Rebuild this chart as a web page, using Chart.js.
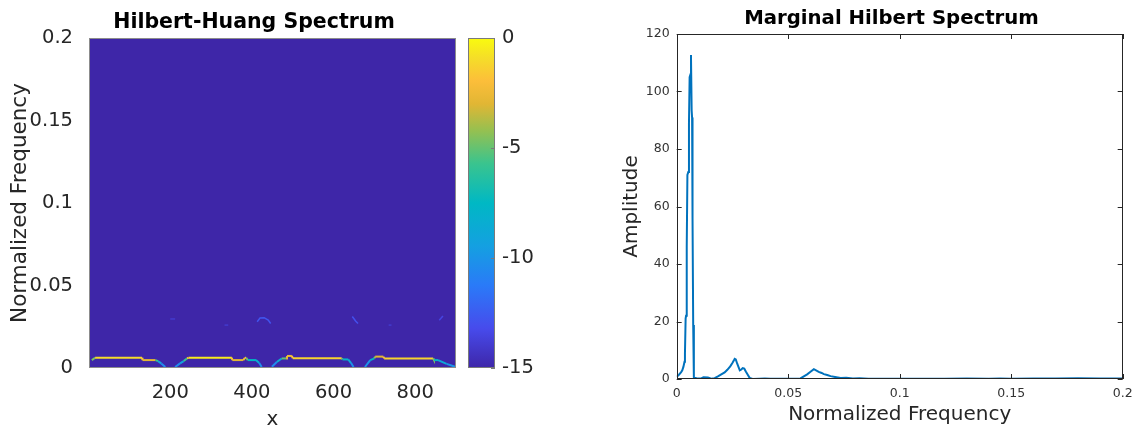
<!DOCTYPE html>
<html>
<head>
<meta charset="utf-8">
<title>Hilbert-Huang Spectrum</title>
<script src="https://cdn.jsdelivr.net/npm/chart.js@4.4.1/dist/chart.umd.min.js"></script>
<style>
  html, body { margin: 0; padding: 0; background: #fff; }
  body { width: 1136px; height: 427px; position: relative; overflow: hidden; }
  canvas { position: absolute; top: 0; }
  #hhsChart { left: 0; }
  #barChart { left: 460px; }
  #mhsChart { left: 560px; }
</style>
</head>
<body>
<canvas id="hhsChart" width="508" height="427"></canvas>
<canvas id="barChart" width="100" height="427"></canvas>
<canvas id="mhsChart" width="663" height="427"></canvas>
<script>
(function () {
  "use strict";

  // --- Hilbert-Huang spectrum: instantaneous frequency ridges (null = break) ---
  const ridgeX = [
    8, 16, 131, 132, 164, 170, 178, 188, null,
    212, 224, 233, 241, 245, 351, 352, 379, 383, 386, 390, 410, 418, 424, null,
    449, 461, 473, 484, 486, 498, 500, 620, 622, 636, 643, 649, null,
    677, 690, 700, 702, 722, 724, 844, 846, 856, 877, 898
  ];
  const ridgeFreq = [
    0.0048, 0.0062, 0.0062, 0.0048, 0.0048, 0.0042, 0.0028, 0.0006, null,
    0.0006, 0.0028, 0.0042, 0.0058, 0.0062, 0.0062, 0.0048, 0.0048, 0.0062, 0.0062, 0.0048, 0.0048, 0.0030, 0.0006, null,
    0.0008, 0.0036, 0.0058, 0.0058, 0.0073, 0.0073, 0.0059, 0.0059, 0.0052, 0.0052, 0.0030, 0.0006, null,
    0.0006, 0.0048, 0.0058, 0.0069, 0.0069, 0.0058, 0.0058, 0.0048, 0.0048, 0.0025, 0.0008
  ];
  const ridgeLevel = [
    -8, -1.5, -0.5, -3, -3, -8.5, -10, -11, null,
    -11, -10, -8.5, -3, -0.5, -0.5, -3, -3, -2, -2, -7.5, -7.5, -9.5, -11, null,
    -11, -10, -7, -3, -2.5, -2.5, -1, -1.5, -7.5, -8, -9.5, -11, null,
    -11, -9, -6, -3, -3, -1, -1.5, -7.5, -8, -9.5, -10.5
  ];

  // weak components near 0.03
  const weakX = [200, 212, null, 333, 342, null, 413, 420, 430, 440, 446, null, 646, 654, 660, null, 735, 742, null, 859, 868];
  const weakFreq = [0.0297, 0.0297, null, 0.026, 0.026, null, 0.028, 0.0303, 0.0305, 0.029, 0.027, null, 0.0312, 0.0285, 0.027, null, 0.026, 0.026, null, 0.029, 0.0315];
  const weakLevel = [-14, -14, null, -14, -14, null, -12.8, -12.8, -12.8, -12.8, -12.8, null, -13, -13, -13, null, -14, -14, null, -13.5, -13.5];

  const hhsXTicks = [200, 400, 600, 800];
  const hhsYTicks = [0, 0.05, 0.1, 0.15, 0.2];
  const levelRange = [-15, 0];
  const levelTicks = [-15, -10, -5, 0];

  // --- marginal Hilbert spectrum ---
  const mhsFreq = [
    0, 0.001, 0.002, 0.0025, 0.003, 0.0035, 0.0037, 0.004, 0.0042, 0.0045, 0.0048, 0.0052, 0.0055, 0.0058,
    0.0062, 0.0064, 0.0067, 0.0069, 0.0071, 0.0074, 0.0077,
    0.009, 0.011, 0.012, 0.014, 0.0155, 0.017, 0.0185, 0.02, 0.0215, 0.0227, 0.024, 0.0249, 0.0256, 0.026,
    0.0265, 0.0271, 0.0277, 0.0283, 0.029, 0.0296, 0.0303, 0.031, 0.032, 0.0327, 0.034, 0.037, 0.0395,
    0.042, 0.047, 0.052, 0.0555, 0.057, 0.0585, 0.06, 0.0615, 0.0625, 0.0637, 0.065, 0.066, 0.0675, 0.069,
    0.071, 0.0735, 0.076, 0.079, 0.082, 0.086, 0.09, 0.1, 0.12, 0.13, 0.14, 0.145, 0.15, 0.16, 0.17, 0.18,
    0.19, 0.2
  ];
  const mhsAmp = [
    0.8, 1.5, 2.4, 3, 4.2, 6, 9, 21, 22, 46, 71, 72, 89, 105,
    106, 112.7, 93.5, 91, 56, 18.8, 0.4,
    0.3, 0.2, 0.6, 0.5, 0.1, 0.3, 0.9, 1.6, 2.3, 3.2, 4.4, 5.5, 6.4, 7.0,
    6.8, 5.4, 4.2, 3.0, 3.3, 3.8, 3.6, 2.6, 1.3, 0.4, 0, 0.1, 0.2,
    0.05, 0.05, 0.1, 0.2, 0.9, 1.6, 2.5, 3.4, 3.0, 2.5, 2.1, 1.7, 1.4, 1.0,
    0.7, 0.35, 0.4, 0.2, 0.3, 0.1, 0.05, 0.05, 0.05, 0.15, 0.05, 0.2, 0.05, 0.2, 0.15, 0.25,
    0.2, 0.2
  ];
  const mhsXTicks = [0, 0.05, 0.1, 0.15, 0.2];
  const mhsYTicks = [0, 20, 40, 60, 80, 100, 120];

  const font = "\"DejaVu Sans\", sans-serif";
  const ink = "#262626";
  const lineBlue = "#0072bd";

  Chart.defaults.font.family = font;
  Chart.defaults.color = ink;
  Chart.defaults.animation = false;

  // parula-like colour map, stops on [0, 1]
  const parulaStops = [
    [0.00, 62, 38, 168],
    [0.12, 71, 75, 236],
    [0.25, 42, 122, 248],
    [0.37, 20, 160, 225],
    [0.50, 0, 184, 196],
    [0.62, 58, 196, 142],
    [0.72, 150, 192, 80],
    [0.80, 225, 182, 52],
    [0.87, 252, 190, 58],
    [0.94, 245, 222, 40],
    [1.00, 249, 251, 14]
  ];

  function parula(level) {
    const t = Math.min(1, Math.max(0, (level - levelRange[0]) / (levelRange[1] - levelRange[0])));
    for (let i = 1; i < parulaStops.length; i++) {
      const a = parulaStops[i - 1], b = parulaStops[i];
      if (t <= b[0]) {
        const k = (t - a[0]) / (b[0] - a[0]);
        const c = [1, 2, 3].map(j => Math.round(a[j] + (b[j] - a[j]) * k));
        return `rgb(${c[0]}, ${c[1]}, ${c[2]})`;
      }
    }
    return "rgb(249, 251, 14)";
  }

  const points = (xs, ys) => xs.map((x, i) => ({ x, y: ys[i] }));
  const fixWidth = w => scale => { scale.width = w; };
  const fixHeight = h => scale => { scale.height = h; };
  const useTicks = list => scale => { scale.ticks = list.map(value => ({ value })); };
  const trimNum = v => String(+v.toFixed(4));

  // empty right-hand axis that only reserves room, so the title centres where wanted
  const spacerAxis = w => ({
    position: "right",
    display: true,
    afterFit: fixWidth(w),
    grid: { display: false, drawTicks: false },
    border: { display: false },
    ticks: { display: false }
  });

  // axes box, inward tick marks and optional area fill
  const framePlugin = {
    id: "frame",
    beforeDatasetsDraw(chart, args, opts) {
      if (!opts.fill) return;
      const { ctx, chartArea: a } = chart;
      ctx.save();
      ctx.fillStyle = opts.fill;
      ctx.fillRect(a.left, a.top, a.right - a.left, a.bottom - a.top);
      ctx.restore();
    },
    afterDraw(chart, args, opts) {
      const { ctx, chartArea: a } = chart;
      const len = opts.tickLength || 0;
      ctx.save();
      ctx.strokeStyle = opts.color || ink;
      ctx.lineWidth = 1;
      ctx.strokeRect(Math.round(a.left) + 0.5, Math.round(a.top) + 0.5,
        Math.round(a.right - a.left) - 1, Math.round(a.bottom - a.top) - 1);
      if (len) {
        ctx.beginPath();
        const xs = chart.scales.x;
        if (xs && xs.options.display !== false) {
          xs.ticks.forEach(t => {
            const px = Math.round(xs.getPixelForValue(t.value)) + 0.5;
            ctx.moveTo(px, a.bottom); ctx.lineTo(px, a.bottom - len);
            ctx.moveTo(px, a.top); ctx.lineTo(px, a.top + len);
          });
        }
        const ys = chart.scales.y;
        ys.ticks.forEach(t => {
          const py = Math.round(ys.getPixelForValue(t.value)) + 0.5;
          if (opts.leftTicks !== false) { ctx.moveTo(a.left, py); ctx.lineTo(a.left + len, py); }
          ctx.moveTo(a.right, py); ctx.lineTo(a.right - len, py);
        });
        ctx.stroke();
      }
      ctx.restore();
    }
  };

  function ridgeDataset(xs, freqs, levels, width) {
    return {
      type: "scatter",
      data: points(xs, freqs),
      showLine: true,
      spanGaps: false,
      pointRadius: 0,
      borderWidth: width,
      borderColor: parula(-8),
      segment: {
        borderColor: ctx => parula((levels[ctx.p0DataIndex] + levels[ctx.p1DataIndex]) / 2)
      }
    };
  }

  // time-frequency map
  new Chart(document.getElementById("hhsChart"), {
    type: "scatter",
    data: {
      datasets: [
        ridgeDataset(weakX, weakFreq, weakLevel, 1.5),
        ridgeDataset(ridgeX, ridgeFreq, ridgeLevel, 2)
      ]
    },
    plugins: [framePlugin],
    options: {
      responsive: false,
      plugins: {
        legend: { display: false },
        tooltip: { enabled: false },
        title: {
          display: true,
          text: "Hilbert-Huang Spectrum",
          color: "#000",
          font: { size: 20.5, weight: "bold" },
          padding: { top: 10.5, bottom: 2.9 }
        },
        frame: { fill: parula(-15), color: "#8c8c8c", tickLength: 0 }
      },
      scales: {
        x: {
          type: "linear",
          min: 1,
          max: 900,
          afterBuildTicks: useTicks(hhsXTicks),
          afterFit: fixHeight(59),
          grid: { display: false },
          border: { display: false },
          ticks: { padding: 5, font: { size: 19.5 }, color: ink, callback: v => trimNum(v) },
          title: { display: true, text: "x", font: { size: 20 }, color: ink, padding: { top: 0, bottom: -5 } }
        },
        y: {
          type: "linear",
          min: 0,
          max: 0.2,
          afterBuildTicks: useTicks(hhsYTicks),
          afterFit: fixWidth(89),
          grid: { display: false },
          border: { display: false },
          ticks: { padding: 8, font: { size: 19.5 }, color: ink, callback: v => trimNum(v) },
          title: { display: true, text: "Normalized Frequency", font: { size: 21.5 }, color: ink, padding: { top: 8, bottom: 0 } }
        },
        y2: spacerAxis(52)
      }
    }
  });

  // colour bar for the map levels
  new Chart(document.getElementById("barChart"), {
    type: "bar",
    data: {
      labels: ["level"],
      datasets: [{
        data: [levelRange],
        barPercentage: 1,
        categoryPercentage: 1,
        borderWidth: 0,
        backgroundColor: ctx => {
          const a = ctx.chart.chartArea;
          if (!a) return parula(-8);
          const g = ctx.chart.ctx.createLinearGradient(0, a.bottom, 0, a.top);
          parulaStops.forEach(s => g.addColorStop(s[0], `rgb(${s[1]}, ${s[2]}, ${s[3]})`));
          return g;
        }
      }]
    },
    plugins: [framePlugin],
    options: {
      responsive: false,
      layout: { padding: { left: 8.3, top: 38, bottom: 59 } },
      plugins: {
        legend: { display: false },
        tooltip: { enabled: false },
        frame: { color: "#7a7a7a", tickLength: 4, leftTicks: false }
      },
      scales: {
        x: { display: false },
        y: {
          position: "right",
          min: levelRange[0],
          max: levelRange[1],
          afterBuildTicks: useTicks(levelTicks),
          afterFit: fixWidth(65),
          grid: { display: false, drawTicks: false },
          border: { display: false },
          ticks: { padding: 7, font: { size: 19.5 }, color: ink }
        }
      }
    }
  });

  // marginal spectrum
  new Chart(document.getElementById("mhsChart"), {
    type: "line",
    data: {
      datasets: [{
        data: points(mhsFreq, mhsAmp),
        borderColor: lineBlue,
        borderWidth: 2,
        pointRadius: 0,
        tension: 0,
        fill: false
      }]
    },
    plugins: [framePlugin],
    options: {
      responsive: false,
      plugins: {
        legend: { display: false },
        tooltip: { enabled: false },
        title: {
          display: true,
          text: "Marginal Hilbert Spectrum",
          color: "#000",
          font: { size: 19.7, weight: "bold" },
          padding: { top: 7, bottom: 3.36 }
        },
        frame: { color: "#262626", tickLength: 5 }
      },
      scales: {
        x: {
          type: "linear",
          min: 0,
          max: 0.2,
          afterBuildTicks: useTicks(mhsXTicks),
          afterFit: fixHeight(48),
          grid: { display: false, drawTicks: false },
          border: { display: false },
          ticks: { padding: 7, font: { size: 12.5 }, color: "#333", callback: v => trimNum(v) },
          title: { display: true, text: "Normalized Frequency", font: { size: 20 }, color: ink, padding: { top: 0, bottom: 0 } }
        },
        y: {
          type: "linear",
          min: 0,
          max: 120,
          afterBuildTicks: useTicks(mhsYTicks),
          afterFit: fixWidth(116.7),
          grid: { display: false, drawTicks: false },
          border: { display: false },
          ticks: { padding: 7, font: { size: 12.5 }, color: "#333" },
          title: { display: true, text: "Amplitude", font: { size: 20 }, color: ink, padding: { top: 60, bottom: 0 } }
        },
        y2: spacerAxis(100.3)
      }
    }
  });
})();
</script>
</body>
</html>
